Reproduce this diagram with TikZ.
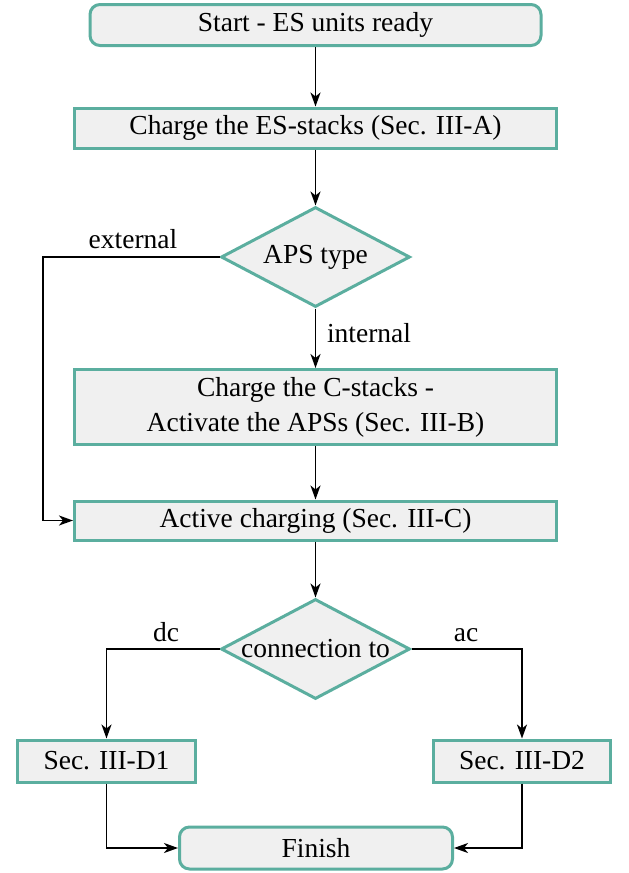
\documentclass[tikz,border=0pt]{standalone}
\usepackage{fontspec}
\setmainfont{Liberation Serif}
\usetikzlibrary{shapes.geometric,arrows.meta}
\definecolor{tealline}{HTML}{5BAE9F}
\definecolor{boxfill}{HTML}{F0F0F0}
\begin{document}
\begin{tikzpicture}[x=1pt,y=-1pt,
  font=\fontsize{27.5}{35}\selectfont,
  box/.style={draw=tealline, fill=boxfill, line width=3pt, inner sep=0pt, align=center},
  rbox/.style={box, rounded corners=10pt},
  dia/.style={diamond, draw=tealline, fill=boxfill, line width=3pt, inner sep=0pt,
    minimum width=189pt, minimum height=100pt},
  conn/.style={line width=1.8pt, -{Stealth[length=14pt,width=10pt,inset=4pt]}},
  lbl/.style={anchor=base, inner sep=0pt}]
\useasboundingbox (0,0) rectangle (629,873);
\node[rbox, minimum width=451pt, minimum height=41pt] (start) at (315.5,25) {Start - ES units ready};
\node[box, minimum width=482pt, minimum height=40pt] (ches) at (315.5,128) {Charge the ES-stacks (Sec. III-A)};
\node[dia] (aps) at (315.5,257) {\makebox[0pt]{APS type}};
\node[box, minimum width=482pt, minimum height=75pt] (chc) at (315.5,407) {Charge the C-stacks -\\Activate the APSs (Sec. III-B)};
\node[box, minimum width=482pt, minimum height=39pt] (act) at (315.5,520.5) {Active charging (Sec. III-C)};
\node[dia] (con) at (315.5,649) {\makebox[0pt]{connection to}};
\node[box, minimum width=178pt, minimum height=42pt] (d1) at (106.5,761) {Sec. III-D1};
\node[box, minimum width=177pt, minimum height=42pt] (d2) at (522,761) {Sec. III-D2};
\node[rbox, minimum width=273pt, minimum height=42pt] (fin) at (316,848) {Finish};
\coordinate (ext) at (43,257);
\draw[conn] (start) -- (ches);
\draw[conn] (ches) -- (aps);
\draw[conn] (aps) -- (chc);
\draw[conn] (chc) -- (act);
\draw[conn] (act) -- (con);
\draw[conn] (aps.west) -- (ext) |- (act.west);
\draw[conn] (con.west) -| (d1.north);
\draw[conn] (con.east) -| (d2.north);
\draw[conn] (d1.south) |- (fin.west);
\draw[conn] (d2.south) |- (fin.east);
\node[lbl] (lext) at (133,248) {external};
\node[lbl] (lint) at (369,342) {internal};
\node[lbl] (ldc) at (166,641) {dc};
\node[lbl] (lac) at (466,641) {ac};
\end{tikzpicture}
\end{document}
